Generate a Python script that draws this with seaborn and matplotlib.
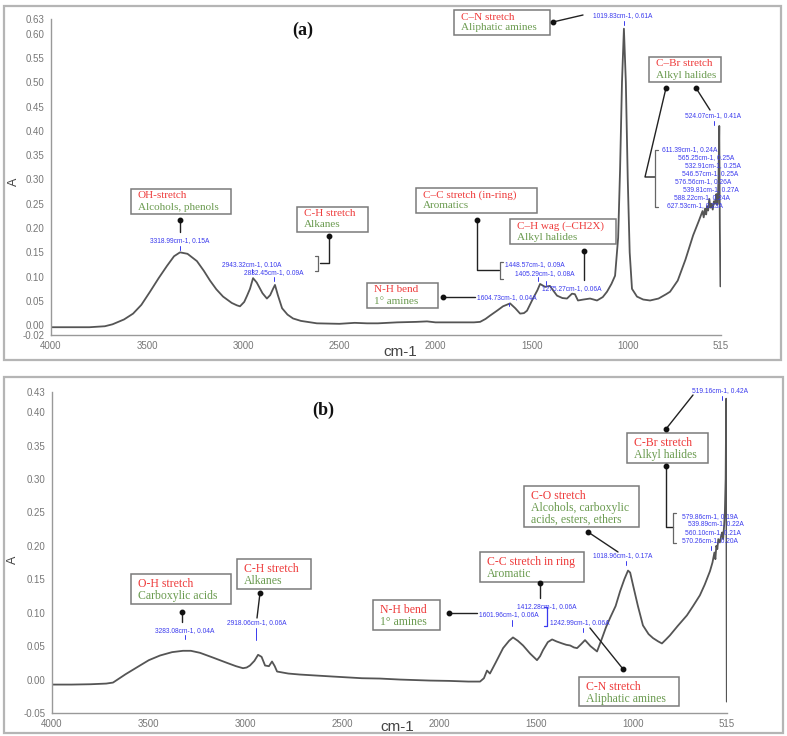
import matplotlib
matplotlib.use("Agg")
import matplotlib.pyplot as plt
import seaborn as sns
import pandas as pd
from matplotlib.lines import Line2D
from matplotlib.patches import Rectangle

# ---------------- data ----------------
wn_a = [4000, 3900, 3800, 3720, 3680, 3620, 3573, 3530, 3485, 3440, 3397, 3360, 3329, 3290,
        3241, 3205, 3173, 3140, 3105, 3060, 3033, 3017, 2995, 2980, 2965, 2949, 2930, 2900,
        2877, 2860, 2845, 2835, 2820, 2798, 2770, 2741, 2700, 2617, 2500, 2420, 2356, 2300,
        2200, 2100, 2044, 2000, 1900, 1800, 1768, 1740, 1716, 1680, 1649, 1612, 1585, 1560,
        1540, 1524, 1493, 1470, 1456, 1430, 1405, 1385, 1368, 1340, 1316, 1290, 1275, 1259,
        1230, 1196, 1160, 1130, 1108, 1085, 1066, 1050, 1040, 1030, 1020, 1010, 1000, 990,
        978, 952, 920, 884, 840, 800, 780, 740, 700, 660, 630, 611, 605, 598, 592, 588, 582,
        576, 570, 565, 558, 552, 546, 542, 539, 535, 532, 528, 524, 521, 518]
abs_a = [-0.004, -0.004, -0.004, -0.002, 0.002, 0.012, 0.024, 0.042, 0.069, 0.097, 0.122, 0.142,
         0.150, 0.147, 0.132, 0.112, 0.092, 0.074, 0.059, 0.046, 0.041, 0.039, 0.048, 0.061,
         0.075, 0.097, 0.088, 0.066, 0.055, 0.062, 0.075, 0.083, 0.062, 0.035, 0.022, 0.014,
         0.009, 0.004, 0.003, 0.005, 0.004, 0.004, 0.006, 0.007, 0.008, 0.006, 0.006, 0.006,
         0.007, 0.013, 0.020, 0.030, 0.039, 0.045, 0.035, 0.024, 0.025, 0.030, 0.055, 0.072,
         0.085, 0.079, 0.081, 0.070, 0.061, 0.056, 0.055, 0.065, 0.064, 0.051, 0.053, 0.055,
         0.051, 0.058, 0.069, 0.085, 0.102, 0.180, 0.320, 0.500, 0.610, 0.500, 0.300, 0.150,
         0.075, 0.059, 0.053, 0.051, 0.055, 0.064, 0.069, 0.092, 0.135, 0.185, 0.215, 0.235,
         0.222, 0.240, 0.228, 0.245, 0.236, 0.260, 0.242, 0.250, 0.238, 0.255, 0.250, 0.262,
         0.270, 0.248, 0.250, 0.300, 0.410, 0.200, 0.080]

wn_b = [4000, 3900, 3800, 3720, 3685, 3620, 3546, 3500, 3442, 3380, 3324, 3283, 3236, 3170,
        3097, 3050, 3014, 2995, 2978, 2955, 2936, 2918, 2900, 2880, 2864, 2850, 2838, 2780,
        2720, 2549, 2400, 2307, 2203, 2100, 2048, 1950, 1850, 1790, 1770, 1754, 1739, 1710,
        1671, 1640, 1620, 1595, 1568, 1532, 1496, 1480, 1465, 1440, 1418, 1395, 1366, 1345,
        1325, 1305, 1289, 1268, 1248, 1220, 1186, 1160, 1140, 1119, 1090, 1067, 1045, 1026,
        1015, 1000, 975, 949, 920, 897, 870, 851, 830, 810, 770, 722, 690, 655, 630, 603, 590,
        580, 575, 570, 565, 560, 552, 545, 540, 535, 530, 526, 522, 519, 517, 516]
abs_b = [-0.0075, -0.0075, -0.007, -0.006, -0.0045, 0.008, 0.021, 0.029, 0.036, 0.041, 0.043,
         0.043, 0.040, 0.033, 0.025, 0.020, 0.017, 0.018, 0.021, 0.028, 0.037, 0.034, 0.021,
         0.020, 0.027, 0.020, 0.012, 0.009, 0.0075, 0.0045, 0.002, 0.0015, 0.0, -0.001, -0.0015,
         -0.002, -0.003, -0.003, 0.002, 0.0135, 0.009, 0.025, 0.047, 0.058, 0.063, 0.058, 0.051,
         0.039, 0.029, 0.035, 0.044, 0.056, 0.060, 0.057, 0.054, 0.052, 0.051, 0.048, 0.047,
         0.053, 0.059, 0.050, 0.042, 0.062, 0.078, 0.092, 0.110, 0.132, 0.150, 0.163, 0.160,
         0.141, 0.110, 0.081, 0.068, 0.062, 0.057, 0.054, 0.060, 0.066, 0.080, 0.096, 0.110,
         0.126, 0.142, 0.162, 0.175, 0.190, 0.180, 0.200, 0.195, 0.210, 0.205, 0.215, 0.220,
         0.210, 0.230, 0.250, 0.300, 0.420, 0.100, -0.033]

xticks = [4000, 3500, 3000, 2500, 2000, 1500, 1000, 515]
yticks_a = [-0.02, 0.00, 0.05, 0.10, 0.15, 0.20, 0.25, 0.30, 0.35, 0.40, 0.45, 0.50, 0.55, 0.60, 0.63]
yticks_b = [-0.05, 0.00, 0.05, 0.10, 0.15, 0.20, 0.25, 0.30, 0.35, 0.40, 0.43]

# ---------------- figure ----------------
sns.set_theme(style="white")
plt.rcParams["font.family"] = ["Liberation Sans", "DejaVu Sans"]

W, H = 787, 736
fig = plt.figure(figsize=(W / 100, H / 100), dpi=100)
fig.patch.set_facecolor("white")


def F(x, y):
    return (x / W, 1 - y / H)


def ax_at(x0, y0, x1, y1):
    return fig.add_axes([x0 / W, 1 - y1 / H, (x1 - x0) / W, (y1 - y0) / H])


axA = ax_at(51, 19, 721, 335)
axB = ax_at(52, 392, 727, 713)

dfa = pd.DataFrame({"wn": wn_a, "A": abs_a})
dfb = pd.DataFrame({"wn": wn_b, "A": abs_b})
sns.lineplot(data=dfa, x="wn", y="A", ax=axA, color="#555555", lw=1.3, estimator=None)
sns.lineplot(data=dfb, x="wn", y="A", ax=axB, color="#555555", lw=1.3, estimator=None)

for ax, yt, ylim in [(axA, yticks_a, (-0.02, 0.63)), (axB, yticks_b, (-0.05, 0.43))]:
    ax.set_xlim(4000, 515)
    ax.set_ylim(*ylim)
    ax.set_xticks(xticks)
    ax.set_xticklabels([str(t) for t in xticks])
    ax.set_yticks(yt)
    ax.set_yticklabels([f"{t:.2f}" for t in yt])
    ax.set_xlabel("")
    ax.set_ylabel("")
    for s in ["top", "right"]:
        ax.spines[s].set_visible(False)
    for s in ["left", "bottom"]:
        ax.spines[s].set_color("#999999")
        ax.spines[s].set_linewidth(1.0)
    ax.tick_params(axis="both", which="major", direction="out", length=3, width=0.8,
                   color="#999999", labelcolor="#777777", labelsize=7, pad=1.5)
    ax.patch.set_alpha(0)

# outer frames
for (x0, y0, x1, y1) in [(4, 6, 781, 360), (4, 377, 783, 733)]:
    fig.add_artist(Rectangle(F(x0, y1), (x1 - x0) / W, (y1 - y0) / H, transform=fig.transFigure,
                             fill=False, ec="#b5b5b5", lw=1.6, zorder=0))

# axis labels
for (x, y) in [(14, 182), (13, 560)]:
    fig.text(*F(x, y), "A", rotation=90, ha="center", va="center", fontsize=9, color="#444444")
for (x, y) in [(400, 352), (397, 727)]:
    fig.text(*F(x, y), "cm-1", ha="center", va="center", fontsize=11, color="#444444")

fig.text(*F(303, 30), "(a)", ha="center", va="center", fontsize=13, fontweight="bold",
         family="Liberation Serif", color="#111111")
fig.text(*F(323, 410), "(b)", ha="center", va="center", fontsize=13, fontweight="bold",
         family="Liberation Serif", color="#111111")

RED = "#ee3b3b"
GREEN = "#6b9b50"
BLUE = "#3a3aee"


def box(x0, y0, x1, y1, title, subs, fs=8, first=7, step=11):
    fig.add_artist(Rectangle(F(x0, y1), (x1 - x0) / W, (y1 - y0) / H, transform=fig.transFigure,
                             fill=True, fc="white", ec="#7a7a7a", lw=1.1, zorder=3))
    fig.text(*F(x0 + 7, y0 + first), title, ha="left", va="center", fontsize=fs,
             family="Liberation Serif", color=RED, zorder=4)
    for i, s in enumerate(subs):
        fig.text(*F(x0 + 7, y0 + first + step * (i + 1)), s, ha="left", va="center", fontsize=fs,
                 family="Liberation Serif", color=GREEN, zorder=4)


def conn(pts, dot=True):
    xs = [p[0] / W for p in pts]
    ys = [1 - p[1] / H for p in pts]
    fig.add_artist(Line2D(xs, ys, transform=fig.transFigure, color="#222222", lw=1.0, zorder=5))
    if dot:
        fig.add_artist(Line2D([xs[-1]], [ys[-1]], transform=fig.transFigure, marker="o",
                              ms=3.2, color="#111111", lw=0, zorder=6))


def bracket(x, y0, y1, side=1, color="#666666"):
    # side=1: ticks point right ("["), side=-1: ticks point left ("]")
    d = 3 * side
    xs = [(x + d) / W, x / W, x / W, (x + d) / W]
    ys = [1 - y0 / H, 1 - y0 / H, 1 - y1 / H, 1 - y1 / H]
    fig.add_artist(Line2D(xs, ys, transform=fig.transFigure, color=color, lw=0.9, zorder=5))


def blab(x, y, s, ha="left"):
    fig.text(*F(x, y), s, ha=ha, va="center", fontsize=4.8, color=BLUE, zorder=7)


def btick(x, y0, y1):
    fig.add_artist(Line2D([x / W, x / W], [1 - y0 / H, 1 - y1 / H], transform=fig.transFigure,
                          color=BLUE, lw=0.7, zorder=7))


# ---------------- panel (a) annotations ----------------
fa = 8
box(131, 189, 231, 214, "OH-stretch", ["Alcohols, phenols"], fs=fa)
box(297, 207, 368, 232, "C-H stretch", ["Alkanes"], fs=fa)
box(454, 10, 550, 35, "C–N stretch", ["Aliphatic amines"], fs=fa)
box(649, 57, 721, 82, "C–Br stretch", ["Alkyl halides"], fs=fa)
box(416, 188, 537, 213, "C–C stretch (in-ring)", ["Aromatics"], fs=fa)
box(510, 219, 616, 244, "C–H wag (–CH2X)", ["Alkyl halides"], fs=fa)
box(367, 283, 438, 308, "N-H bend", ["1° amines"], fs=fa)

conn([(180, 232), (180, 220)])
conn([(320, 263), (329, 263), (329, 236)])
bracket(318, 256, 271, side=-1)
conn([(583, 15), (553, 22)])
conn([(655, 177), (645, 177), (666, 88)])
bracket(655, 150, 207, side=1)
conn([(710, 110), (696, 88)])
conn([(499, 270), (477, 270), (477, 220)])
bracket(500, 262, 279, side=1)
conn([(584, 280), (584, 251)])
conn([(475, 297), (443, 297)])

blab(180, 241, "3318.99cm-1, 0.15A", ha="center"); btick(180, 246, 250)
blab(252, 265, "2943.32cm-1, 0.10A", ha="center"); btick(252, 269, 273)
blab(274, 273, "2832.45cm-1, 0.09A", ha="center"); btick(274, 277, 281)
blab(623, 16, "1019.83cm-1, 0.61A", ha="center"); btick(624, 21, 25)
blab(713, 116, "524.07cm-1, 0.41A", ha="center"); btick(714, 121, 125)
stack_a = [(662, 150, "611.39cm-1, 0.24A"), (678, 158, "565.25cm-1, 0.25A"),
           (685, 166, "532.91cm-1, 0.25A"), (682, 174, "546.57cm-1, 0.25A"),
           (675, 182, "576.56cm-1, 0.26A"), (683, 190, "539.81cm-1, 0.27A"),
           (674, 198, "588.22cm-1, 0.24A"), (667, 206, "627.53cm-1, 0.23A")]
for x, y, s in stack_a:
    blab(x, y, s)
blab(505, 265, "1448.57cm-1, 0.09A"); btick(538, 277, 281)
blab(515, 274, "1405.29cm-1, 0.08A"); btick(546, 281, 285)
blab(542, 289, "1275.27cm-1, 0.06A")
blab(477, 298, "1604.73cm-1, 0.04A"); btick(509, 303, 306)

# ---------------- panel (b) annotations ----------------
fb = 8.5
box(131, 574, 231, 604, "O-H stretch", ["Carboxylic acids"], fs=fb, first=10, step=12)
box(237, 559, 311, 589, "C-H stretch", ["Alkanes"], fs=fb, first=10, step=12)
box(373, 600, 440, 630, "N-H bend", ["1° amines"], fs=fb, first=10, step=12)
box(480, 552, 584, 582, "C-C stretch in ring", ["Aromatic"], fs=fb, first=10, step=12)
box(579, 677, 679, 706, "C-N stretch", ["Aliphatic amines"], fs=fb, first=10, step=12)
box(524, 486, 639, 527, "C-O stretch", ["Alcohols, carboxylic", "acids, esters, ethers"],
    fs=fb, first=10, step=12)
box(627, 433, 708, 463, "C-Br stretch", ["Alkyl halides"], fs=fb, first=10, step=12)

conn([(182, 622), (182, 612)])
conn([(257, 618), (260, 593)])
conn([(477, 613), (449, 613)])
conn([(540, 598), (540, 583)])
conn([(590, 628), (623, 669)])
conn([(618, 552), (588, 532)])
conn([(693, 395), (666, 429)])
conn([(673, 527), (666, 527), (666, 466)])
bracket(673, 513, 543, side=1)
bracket(547, 607, 626, side=-1, color=BLUE)

blab(185, 631, "3283.08cm-1, 0.04A", ha="center"); btick(185, 635, 639)
blab(257, 623, "2918.06cm-1, 0.06A", ha="center"); btick(256, 628, 640)
blab(479, 615, "1601.96cm-1, 0.06A"); btick(512, 620, 626)
blab(517, 607, "1412.28cm-1, 0.06A")
blab(550, 623, "1242.99cm-1, 0.06A"); btick(583, 628, 632)
blab(593, 556, "1018.96cm-1, 0.17A"); btick(626, 561, 565)
blab(692, 391, "519.16cm-1, 0.42A"); btick(722, 396, 400)
stack_b = [(682, 517, "579.86cm-1, 0.19A"), (688, 524, "539.89cm-1, 0.22A"),
           (685, 533, "560.10cm-1, 0.21A"), (682, 541, "570.26cm-1, 0.20A")]
for x, y, s in stack_b:
    blab(x, y, s)
btick(711, 546, 550)

fig.savefig("out.png", dpi=100, facecolor="white")
